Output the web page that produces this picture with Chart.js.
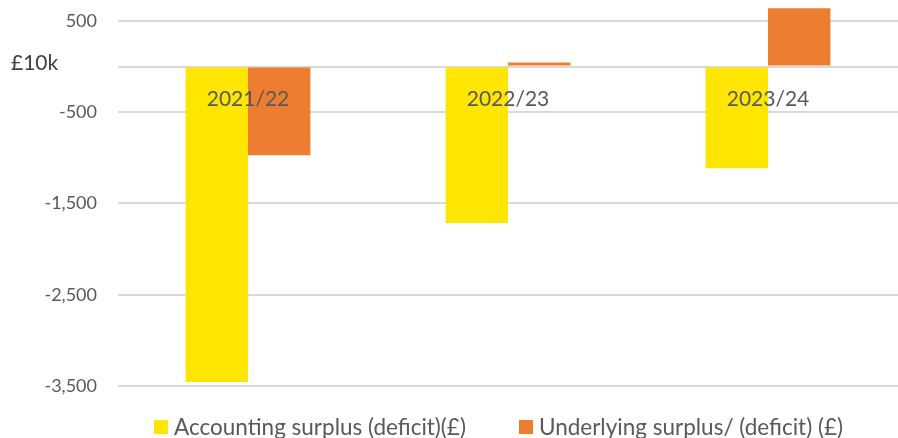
<!DOCTYPE html>
<html>
<head>
<meta charset="utf-8">
<script src="https://cdn.jsdelivr.net/npm/chart.js@4.4.1/dist/chart.umd.min.js"></script>
<style>
    html, body { margin: 0; padding: 0; background: #fff; }
    #wrap { position: relative; width: 898px; height: 438px; font-family: Lato, "Open Sans", sans-serif; }
    #unit { position: absolute; left: 11px; top: 49px; font-size: 21px; color: #404040; }
    #legend { position: absolute; left: 154px; top: 413px; display: flex; font-size: 22.5px; line-height: 28px; color: #595959; white-space: nowrap; }
    #legend .item { display: flex; align-items: center; margin-right: 53px; }
    #legend .box { width: 14px; height: 14px; margin-right: 6px; }
</style>
</head>
<body>
<div id="wrap">
    <canvas id="chart" width="898" height="438"></canvas>
    <div id="unit">£10k</div>
    <div id="legend"></div>
</div>
<script>
const years = ['2021/22', '2022/23', '2023/24'];
const seriesNames = ['Accounting surplus (deficit)(£)', 'Underlying surplus/ (deficit) (£)'];
const accounting = [-3455, -1715, -1115];
const underlying = [-970, 45, 640];
const yTicks = [500, 0, -500, -1500, -2500, -3500];
const colors = ['#FFE600', '#ED7D31'];

const legend = document.getElementById('legend');
seriesNames.forEach((name, i) => {
    const item = document.createElement('div');
    item.className = 'item';
    item.innerHTML = `<span class="box" style="background:${colors[i]}"></span><span>${name}</span>`;
    legend.appendChild(item);
});

const ctx = document.getElementById('chart').getContext('2d');
new Chart(ctx, {
    type: 'bar',
    data: {
        labels: years,
        datasets: [
            { label: seriesNames[0], data: accounting, backgroundColor: colors[0] },
            { label: seriesNames[1], data: underlying, backgroundColor: colors[1] }
        ]
    },
    options: {
        responsive: false,
        animation: false,
        layout: { padding: 0 },
        categoryPercentage: 0.48,
        barPercentage: 1,
        plugins: {
            legend: { display: false },
            tooltip: { enabled: false }
        },
        scales: {
            x: {
                position: { y: 0 },
                grid: { display: false, drawTicks: false },
                border: { display: false },
                ticks: {
                    z: 1, // labels sit on top of the bars
                    padding: 20,
                    color: '#595959',
                    font: { family: 'Lato', size: 21 }
                },
                afterFit: scale => {
                    scale.paddingLeft = 0;
                    scale.paddingRight = 0;
                }
            },
            y: {
                min: -4070,
                max: 730,
                afterBuildTicks: scale => {
                    scale.ticks = yTicks.map(v => ({ value: v }));
                },
                afterFit: scale => {
                    scale.width = 118;
                    scale.paddingTop = 0;
                    scale.paddingBottom = 0;
                },
                grid: { color: '#d9d9d9', lineWidth: 2, drawTicks: false },
                border: { display: false },
                ticks: {
                    padding: 21,
                    color: '#595959',
                    font: { family: 'Lato', size: 18 },
                    callback: v => v === 0 ? '' : v.toLocaleString('en-US')
                }
            }
        }
    }
});
</script>
</body>
</html>
